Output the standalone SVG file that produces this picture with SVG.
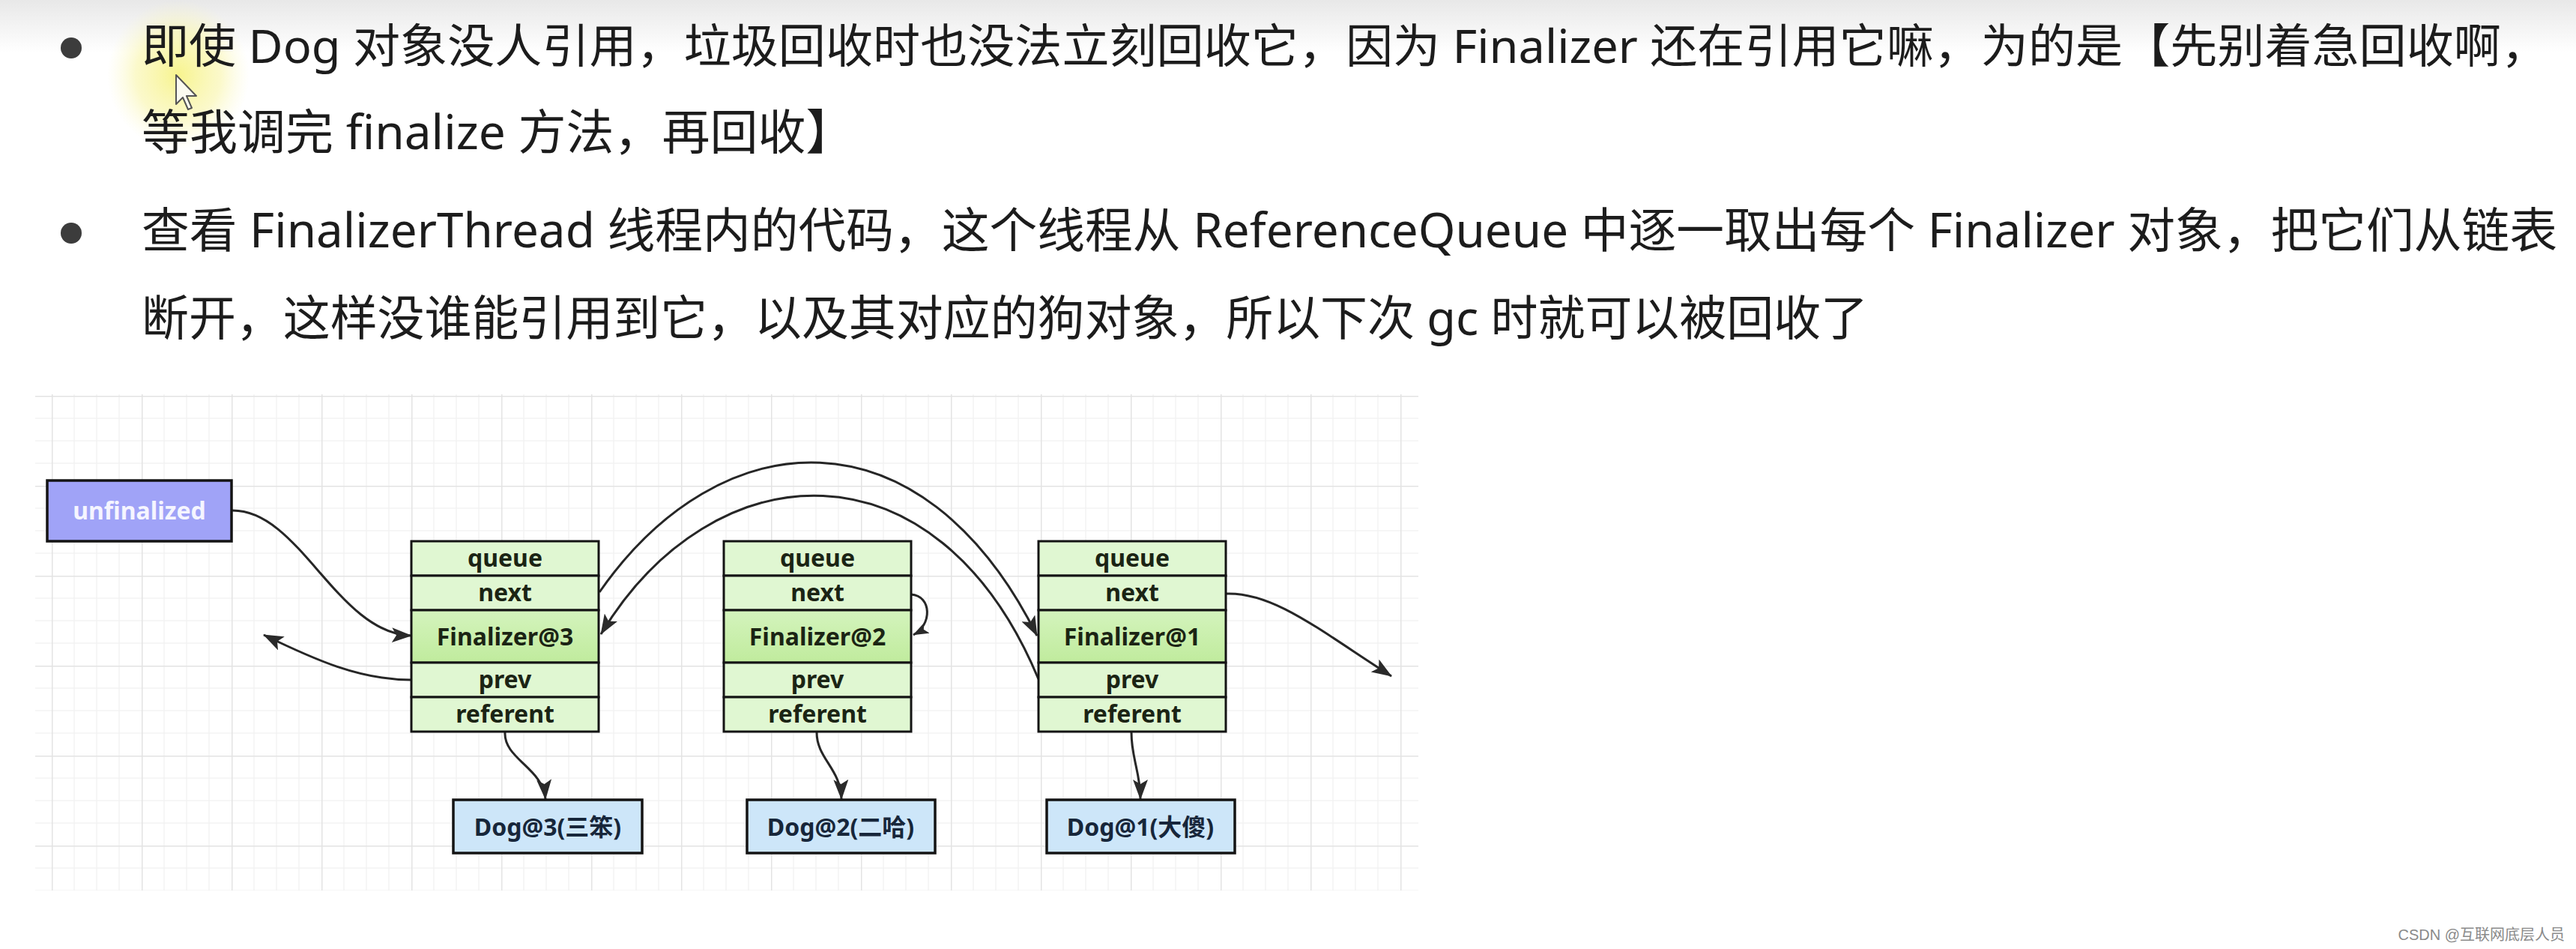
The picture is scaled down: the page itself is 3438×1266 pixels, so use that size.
<svg xmlns="http://www.w3.org/2000/svg" width="3438" height="1266" viewBox="0 0 3438 1266">
  <defs>
    <linearGradient id="topShade" x1="0" y1="0" x2="0" y2="1">
      <stop offset="0" stop-color="#e8e8e8"/>
      <stop offset="1" stop-color="#ffffff"/>
    </linearGradient>
    <radialGradient id="glow" cx="0.5" cy="0.5" r="0.5">
      <stop offset="0" stop-color="#f6f27a" stop-opacity="0.85"/>
      <stop offset="0.6" stop-color="#f8f4a0" stop-opacity="0.55"/>
      <stop offset="1" stop-color="#fbf8c8" stop-opacity="0"/>
    </radialGradient>
    <linearGradient id="coreFill" x1="0" y1="0" x2="0" y2="1">
      <stop offset="0" stop-color="#d4f4bd"/>
      <stop offset="1" stop-color="#c0eb9d"/>
    </linearGradient>
    <pattern id="grid" patternUnits="userSpaceOnUse" x="69" y="528" width="120" height="120">
      <path d="M30 0V120M60 0V120M90 0V120M0 30H120M0 60H120M0 90H120" stroke="#f3f3f3" stroke-width="1.5" fill="none"/>
      <path d="M0.75 0V120M0 0.75H120" stroke="#e3e3e3" stroke-width="1.5" fill="none"/>
    </pattern>
    <marker id="arrow" viewBox="0 0 27 20" refX="26" refY="10" markerWidth="27" markerHeight="20" markerUnits="userSpaceOnUse" orient="auto">
      <path d="M0 0L27 10L0 20L6 10Z" fill="#2a2a2a"/>
    </marker>
    <marker id="arrowSm" viewBox="0 0 27 20" refX="26" refY="10" markerWidth="21" markerHeight="16" markerUnits="userSpaceOnUse" orient="auto">
      <path d="M0 0L27 10L0 20L6 10Z" fill="#2a2a2a"/>
    </marker>
    <style>
      .para { font-family: "Noto Sans", "Noto Sans CJK SC", sans-serif; font-size: 64px; fill: #1c1c1c; }
      .bullet { fill: #3c3c3c; }
      .cell { fill: #e0f7d2; stroke: #141414; stroke-width: 3; }
      .core { fill: url(#coreFill); stroke: #141414; stroke-width: 3; }
      .dog { fill: #cde6f9; stroke: #141414; stroke-width: 3.5; }
      .head { fill: #a0a3f7; stroke: #141414; stroke-width: 3.5; }
      .lbl { font-family: "Noto Sans", "Noto Sans CJK SC", sans-serif; font-size: 32px; font-weight: bold; fill: #1b2414; text-anchor: middle; }
      .dogLbl { fill: #17263a; }
      .headLbl { fill: #f5f5ff; }
      .wire { fill: none; stroke: #262626; stroke-width: 3; marker-end: url(#arrow); }
      .mark { font-family: "Liberation Sans", "Noto Sans CJK SC", sans-serif; font-size: 20px; fill: #8a8a8a; text-anchor: end; }
    </style>
  </defs>

  <!-- page background -->
  <rect x="0" y="0" width="3438" height="1266" fill="#ffffff"/>
  <rect x="0" y="0" width="3438" height="70" fill="url(#topShade)"/>

  <!-- pointer highlight -->
  <ellipse cx="238" cy="100" rx="95" ry="100" fill="url(#glow)"/>

  <!-- bullet list -->
  <g id="bullet-1">
    <circle class="bullet" cx="95" cy="64" r="14"/>
    <text class="para" x="189" y="84" style="font-size:62px" textLength="3212" lengthAdjust="spacingAndGlyphs">即使 Dog 对象没人引用，垃圾回收时也没法立刻回收它，因为 Finalizer 还在引用它嘛，为的是【先别着急回收啊，</text>
    <text class="para" x="189" y="199">等我调完 finalize 方法，再回收】</text>
  </g>
  <g id="bullet-2">
    <circle class="bullet" cx="95" cy="311" r="14"/>
    <text class="para" x="189" y="330" textLength="3224" lengthAdjust="spacingAndGlyphs">查看 FinalizerThread 线程内的代码，这个线程从 ReferenceQueue 中逐一取出每个 Finalizer 对象，把它们从链表</text>
    <text class="para" x="189" y="447" textLength="2304" lengthAdjust="spacingAndGlyphs">断开，这样没谁能引用到它，以及其对应的狗对象，所以下次 gc 时就可以被回收了</text>
  </g>

  <!-- mouse pointer -->
  <path d="M235 100L235 139L244 130L251 146L256 144L249 128L262 128Z" fill="#fbfbf0" stroke="#555" stroke-width="2" stroke-linejoin="round"/>

  <!-- canvas grid -->
  <rect x="47" y="526" width="1846" height="662" fill="url(#grid)"/>

  <!-- connectors -->
  <g id="connectors">
    <path class="wire" d="M310 681C400 680 450 845 549 848"/>
    <path class="wire" d="M549 907C480 907 420 880 352 847"/>
    <path class="wire" d="M800 790C960 560 1230 540 1384 848"/>
    <path class="wire" d="M1386 906C1250 580 950 600 802 846"/>
    <path class="wire" style="marker-end:url(#arrowSm)" d="M1216 793C1244 795 1244 834 1219 847"/>
    <path class="wire" d="M1637 792C1700 790 1760 840 1857 902"/>
    <path class="wire" d="M674 977C672 1012 725 1025 728 1066"/>
    <path class="wire" d="M1090 977C1090 1012 1122 1025 1123 1066"/>
    <path class="wire" d="M1510 977C1510 1012 1522 1030 1522 1066"/>
  </g>

  <!-- list head -->
  <g id="unfinalized">
    <rect class="head" x="63" y="641" width="246" height="81"/>
    <text class="lbl headLbl" x="186" y="693">unfinalized</text>
  </g>

  <!-- Finalizer nodes -->
  <g id="finalizer-3">
    <rect class="cell" x="549" y="722" width="250" height="46"/>
    <rect class="cell" x="549" y="768" width="250" height="46"/>
    <rect class="core" x="549" y="814" width="250" height="70"/>
    <rect class="cell" x="549" y="884" width="250" height="46"/>
    <rect class="cell" x="549" y="930" width="250" height="46"/>
    <text class="lbl" x="674" y="756">queue</text>
    <text class="lbl" x="674" y="802">next</text>
    <text class="lbl" x="674" y="861">Finalizer@3</text>
    <text class="lbl" x="674" y="918">prev</text>
    <text class="lbl" x="674" y="964">referent</text>
  </g>
  <g id="finalizer-2">
    <rect class="cell" x="966" y="722" width="250" height="46"/>
    <rect class="cell" x="966" y="768" width="250" height="46"/>
    <rect class="core" x="966" y="814" width="250" height="70"/>
    <rect class="cell" x="966" y="884" width="250" height="46"/>
    <rect class="cell" x="966" y="930" width="250" height="46"/>
    <text class="lbl" x="1091" y="756">queue</text>
    <text class="lbl" x="1091" y="802">next</text>
    <text class="lbl" x="1091" y="861">Finalizer@2</text>
    <text class="lbl" x="1091" y="918">prev</text>
    <text class="lbl" x="1091" y="964">referent</text>
  </g>
  <g id="finalizer-1">
    <rect class="cell" x="1386" y="722" width="250" height="46"/>
    <rect class="cell" x="1386" y="768" width="250" height="46"/>
    <rect class="core" x="1386" y="814" width="250" height="70"/>
    <rect class="cell" x="1386" y="884" width="250" height="46"/>
    <rect class="cell" x="1386" y="930" width="250" height="46"/>
    <text class="lbl" x="1511" y="756">queue</text>
    <text class="lbl" x="1511" y="802">next</text>
    <text class="lbl" x="1511" y="861">Finalizer@1</text>
    <text class="lbl" x="1511" y="918">prev</text>
    <text class="lbl" x="1511" y="964">referent</text>
  </g>

  <!-- referents -->
  <g id="dog-3">
    <rect class="dog" x="605" y="1067" width="252" height="71"/>
    <text class="lbl dogLbl" x="731" y="1115">Dog@3(三笨)</text>
  </g>
  <g id="dog-2">
    <rect class="dog" x="997" y="1067" width="251" height="71"/>
    <text class="lbl dogLbl" x="1122" y="1115">Dog@2(二哈)</text>
  </g>
  <g id="dog-1">
    <rect class="dog" x="1397" y="1067" width="251" height="71"/>
    <text class="lbl dogLbl" x="1522" y="1115">Dog@1(大傻)</text>
  </g>

  <!-- corner credit -->
  <text class="mark" x="3423" y="1254">CSDN @互联网底层人员</text>
</svg>
